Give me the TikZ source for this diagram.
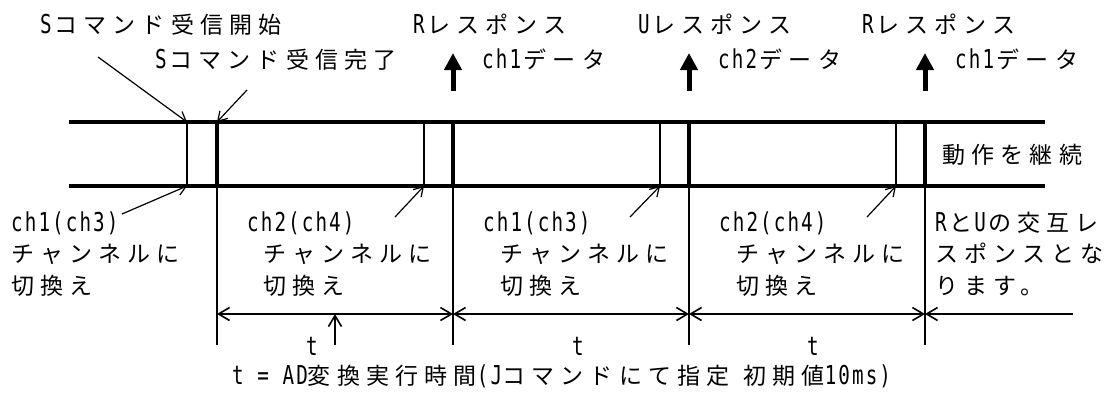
\documentclass[tikz,border=0pt]{standalone}
\usepackage{fontspec}
\usetikzlibrary{arrows.meta}
\newfontfamily\jpfam[LetterSpace=27]{Noto Sans CJK JP}
\newfontfamily\ascfam[FakeStretch=0.74,LetterSpace=8]{DejaVu Sans Mono}
\newcommand\jpf{\jpfam\fontsize{23pt}{26pt}\selectfont}
\newcommand\af[1]{{\ascfam\fontsize{26pt}{26pt}\selectfont #1}}
\newcommand\afk[1]{\af{#1}\kern2.5pt\relax}
\tikzset{
  dimtip/.tip={Straight Barb[length=11pt,width=13pt]},
  ptrtip/.tip={Straight Barb[length=9pt,width=11pt]},
  resptip/.tip={Triangle[length=17pt,width=17pt]},
}
\begin{document}
\begin{tikzpicture}[x=1pt,y=-1pt,
  lbl/.style={anchor=base west, inner sep=0pt, font=\jpf},
  tlbl/.style={anchor=base, inner sep=0pt},
  rail/.style={line width=4pt},
  thickv/.style={line width=4pt},
  thinv/.style={line width=1.6pt},
  ptr/.style={line width=1.2pt, -ptrtip},
  dim/.style={line width=1.6pt},
  resp/.style={line width=5pt, -resptip},
]
\useasboundingbox (0,0) rectangle (1120,394);
% rails
\coordinate (tl) at (69,122); \coordinate (tr) at (1045,122);
\coordinate (bl) at (69,186); \coordinate (br) at (1045,186);
\draw[rail] (tl) -- (tr);
\draw[rail] (bl) -- (br);
% thin switch lines
\foreach \x [count=\i] in {187,424,660,896}{
  \coordinate (st\i) at (\x,122); \coordinate (sb\i) at (\x,186);
  \draw[thinv] (st\i) -- (sb\i);
}
% thick lines and ticks
\foreach \x [count=\i] in {217,453,689,925}{
  \coordinate (kt\i) at (\x,122); \coordinate (kb\i) at (\x,186);
  \coordinate (kd\i) at (\x,314); \coordinate (ke\i) at (\x,345);
  \draw[thickv] (kt\i) -- (kb\i);
  \draw[thinv] (kb\i) -- (ke\i);
}
% response arrows
\foreach \x [count=\i] in {453,689,925}{
  \coordinate (ra\i) at (\x,91); \coordinate (rb\i) at (\x,53);
  \draw[resp] (ra\i) -- (rb\i);
}
% dimension line
\coordinate (dend) at (1073,314);
\draw[dim,dimtip-dimtip] (kd1) -- (kd2);
\draw[dim,dimtip-dimtip] (kd2) -- (kd3);
\draw[dim,dimtip-dimtip] (kd3) -- (kd4);
\draw[dim,dimtip-] (kd4) -- (dend);
\coordinate (ta) at (335,345); \coordinate (tb) at (335,314);
\draw[dim,-dimtip] (ta) -- (tb);
% top labels
\node[lbl] (s1) at (40,33) {\afk{S}コマンド受信開始};
\node[lbl] (s2) at (155,68) {\afk{S}コマンド受信完了};
\node[lbl] (r1) at (413,33) {\afk{R}レスポンス};
\node[lbl] (d1) at (482,68) {\afk{ch1}データ};
\node[lbl] (u1) at (638,33) {\afk{U}レスポンス};
\node[lbl] (d2) at (718,68) {\afk{ch2}データ};
\node[lbl] (r2) at (862,33) {\afk{R}レスポンス};
\node[lbl] (d3) at (955,68) {\afk{ch1}データ};
\node[lbl] (cont) at (942,163) {動作を継続};
% pointers from top labels
\coordinate (pa) at (98,57); \coordinate (pb) at (247,90);
\draw[ptr] (pa) -- (st1);
\draw[ptr] (pb) -- (kt1);
% bottom labels
\node[lbl] (a1) at (11,231) {\af{ch1(ch3)}};
\node[lbl] (a2) at (11,262) {チャンネルに};
\node[lbl] (a3) at (11,294) {切換え};
\node[lbl] (b1) at (247,231) {\af{ch2(ch4)}};
\node[lbl] (b2) at (263,262) {チャンネルに};
\node[lbl] (b3) at (263,294) {切換え};
\node[lbl] (c1) at (483,231) {\af{ch1(ch3)}};
\node[lbl] (c2) at (500,262) {チャンネルに};
\node[lbl] (c3) at (500,294) {切換え};
\node[lbl] (e1) at (719,231) {\af{ch2(ch4)}};
\node[lbl] (e2) at (736,262) {チャンネルに};
\node[lbl] (e3) at (736,294) {切換え};
\node[lbl] (f1) at (935,231) {\afk{R}と\kern2pt\afk{U}の交互レ};
\node[lbl] (f2) at (935,262) {スポンスとな};
\node[lbl] (f3) at (935,294) {ります。};
% pointers from bottom labels
\coordinate (q1) at (122,214); \coordinate (q2) at (395,217);
\coordinate (q3) at (630,217); \coordinate (q4) at (867,217);
\draw[ptr] (q1) -- (sb1);
\draw[ptr] (q2) -- (sb2);
\draw[ptr] (q3) -- (sb3);
\draw[ptr] (q4) -- (sb4);
% t labels
\node[tlbl] (t1) at (312,355) {\af{t}};
\node[tlbl] (t2) at (578,355) {\af{t}};
\node[tlbl] (t3) at (813,355) {\af{t}};
\node[lbl] (note) at (232,384) {\af{t = AD}変換実行時間\af{(J}コマンドにて指定\af{ }初期値\af{10ms)}};
\end{tikzpicture}
\end{document}
